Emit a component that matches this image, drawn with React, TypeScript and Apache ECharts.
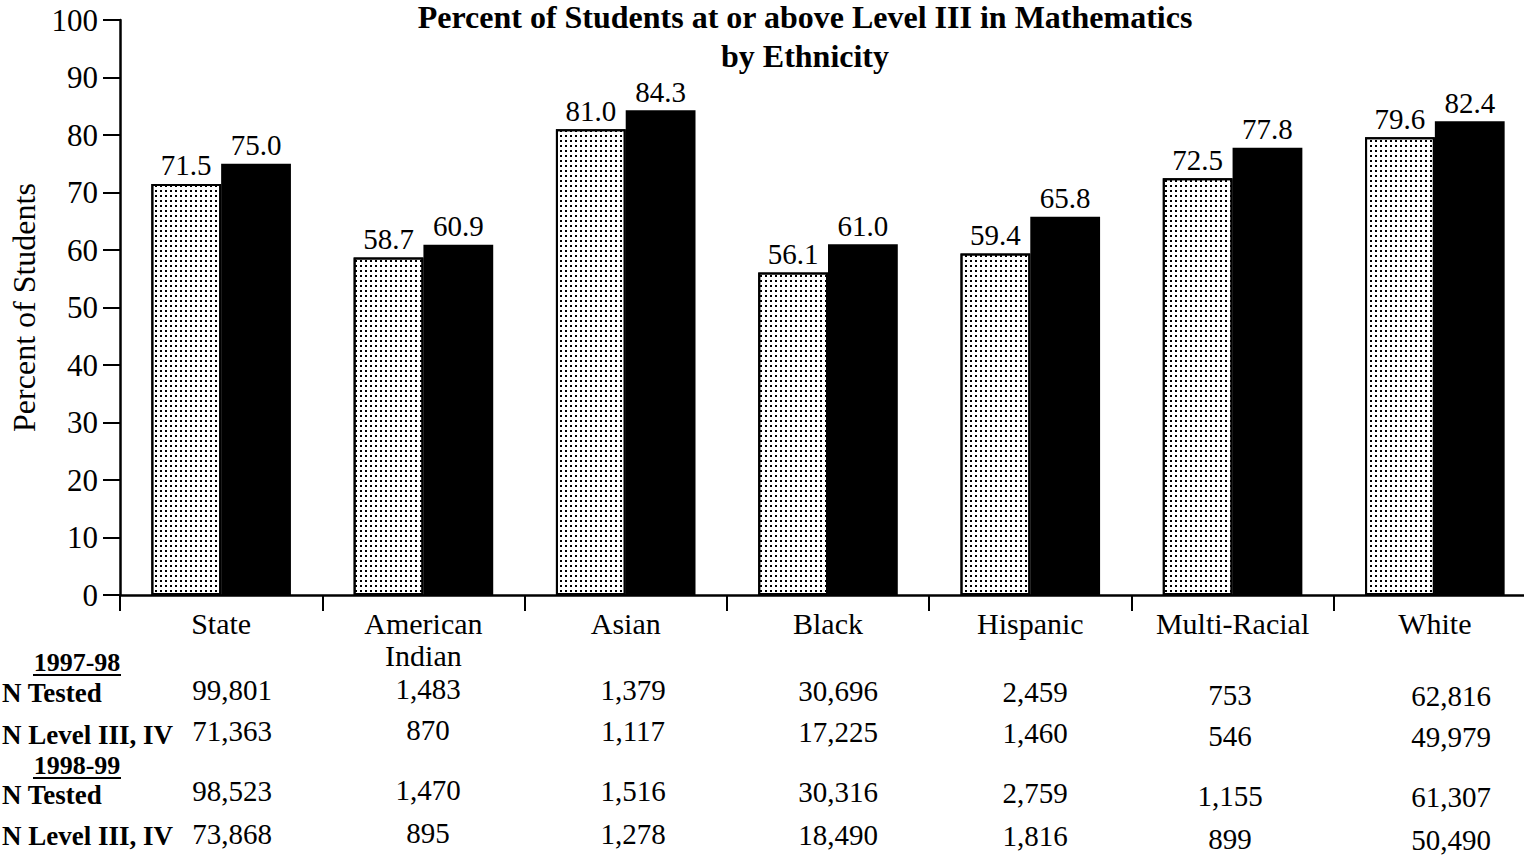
import React, { useEffect, useRef } from "react";
import * as echarts from "echarts";

const categories = ["State", "American\nIndian", "Asian", "Black", "Hispanic", "Multi-Racial", "White"];
const pct9798 = [71.5, 58.7, 81.0, 56.1, 59.4, 72.5, 79.6];
const pct9899 = [75.0, 60.9, 84.3, 61.0, 65.8, 77.8, 82.4];

const tested9798 = ["99,801", "1,483", "1,379", "30,696", "2,459", "753", "62,816"];
const level9798 = ["71,363", "870", "1,117", "17,225", "1,460", "546", "49,979"];
const tested9899 = ["98,523", "1,470", "1,516", "30,316", "2,759", "1,155", "61,307"];
const level9899 = ["73,868", "895", "1,278", "18,490", "1,816", "899", "50,490"];

const FONT = "'Liberation Serif', 'Times New Roman', serif";

// layout constants for the table under the chart
const colX = [232, 428, 633, 838, 1035, 1230, 1451];
const colDy = [0, -1, 0, 1, 2, 5, 6];
const rowY = [690, 731, 791, 834];

export default function App() {
  const ref = useRef<HTMLDivElement>(null);
  useEffect(() => {
    if (!ref.current) return;
    const chart = echarts.init(ref.current, null, { renderer: "svg" });

    const graphic: any[] = [];
    const rows = [tested9798, level9798, tested9899, level9899];
    rows.forEach((row, ri) => {
      row.forEach((v, ci) => {
        graphic.push({
          type: "text",
          style: {
            x: colX[ci],
            y: rowY[ri] + colDy[ci],
            text: v,
            textAlign: "center",
            textVerticalAlign: "middle",
            font: `29px ${FONT}`,
            fill: "#000",
          },
        });
      });
    });
    const rowLabels = [
      { t: "N Tested", y: 693 },
      { t: "N Level III, IV", y: 735 },
      { t: "N Tested", y: 795 },
      { t: "N Level III, IV", y: 836 },
    ];
    rowLabels.forEach((r) => {
      graphic.push({
        type: "text",
        style: {
          x: 2,
          y: r.y,
          text: r.t,
          textAlign: "left",
          textVerticalAlign: "middle",
          font: `bold 27px ${FONT}`,
          fill: "#000",
        },
      });
    });
    [
      { t: "1997-98", y: 662 },
      { t: "1998-99", y: 765 },
    ].forEach((h) => {
      graphic.push({
        type: "text",
        style: {
          x: 77,
          y: h.y,
          text: h.t,
          textAlign: "center",
          textVerticalAlign: "middle",
          font: `bold 26px ${FONT}`,
          fill: "#000",
        },
      });
      graphic.push({
        type: "line",
        shape: { x1: 33, y1: h.y + 13, x2: 121, y2: h.y + 13 },
        style: { stroke: "#000", lineWidth: 2 },
      });
    });

    const labelCfg = {
      show: true,
      position: "top",
      distance: 4,
      fontFamily: FONT,
      fontSize: 29,
      color: "#000",
      formatter: (p: any) => p.value.toFixed(1),
    };

    chart.setOption({
      animation: false,
      backgroundColor: "#fff",
      title: {
        text: "Percent of Students at or above Level III in Mathematics\nby Ethnicity",
        left: 800,
        top: -8,
        textAlign: "center",
        textStyle: {
          fontFamily: FONT,
          fontWeight: "bold",
          fontSize: 32,
          lineHeight: 39,
          color: "#000",
        },
      },
      grid: {
        left: 120,
        right: -12,
        top: 20,
        bottom: 260,
        containLabel: false,
        outerBoundsMode: "none",
      },
      xAxis: {
        type: "category",
        data: categories,
        axisLine: { lineStyle: { color: "#000", width: 2.5 } },
        axisTick: { show: true, length: 16, lineStyle: { color: "#000", width: 2 } },
        axisLabel: {
          fontFamily: FONT,
          fontSize: 30,
          color: "#000",
          margin: 12,
          lineHeight: 32,
        },
      },
      yAxis: {
        type: "value",
        min: 0,
        max: 100,
        interval: 10,
        name: "Percent of Students",
        nameLocation: "middle",
        nameRotate: 90,
        nameGap: 80,
        nameTextStyle: { fontFamily: FONT, fontSize: 32, color: "#000" },
        axisLine: { show: true, lineStyle: { color: "#000", width: 2.5 } },
        axisTick: { show: true, length: 17, lineStyle: { color: "#000", width: 2 } },
        axisLabel: { fontFamily: FONT, fontSize: 31, color: "#000", margin: 22 },
        splitLine: { show: false },
      },
      series: [
        {
          name: "1997-98",
          type: "bar",
          data: pct9798,
          barGap: "0%",
          barCategoryGap: "31%",
          itemStyle: {
            color: "#fff",
            borderColor: "#000",
            borderWidth: 2,
            decal: {
              symbol: "rect",
              symbolSize: 1,
              color: "#000",
              dashArrayX: [2, 3],
              dashArrayY: [2, 3],
              rotation: 0,
            },
          },
          label: labelCfg,
        },
        {
          name: "1998-99",
          type: "bar",
          data: pct9899,
          itemStyle: { color: "#000" },
          label: labelCfg,
        },
      ],
      graphic,
    });
    return () => chart.dispose();
  }, []);
  return (
    <div
      ref={ref}
      style={{ position: "fixed", left: 0, top: 0, width: 1524, height: 855, background: "#fff" }}
    />
  );
}
